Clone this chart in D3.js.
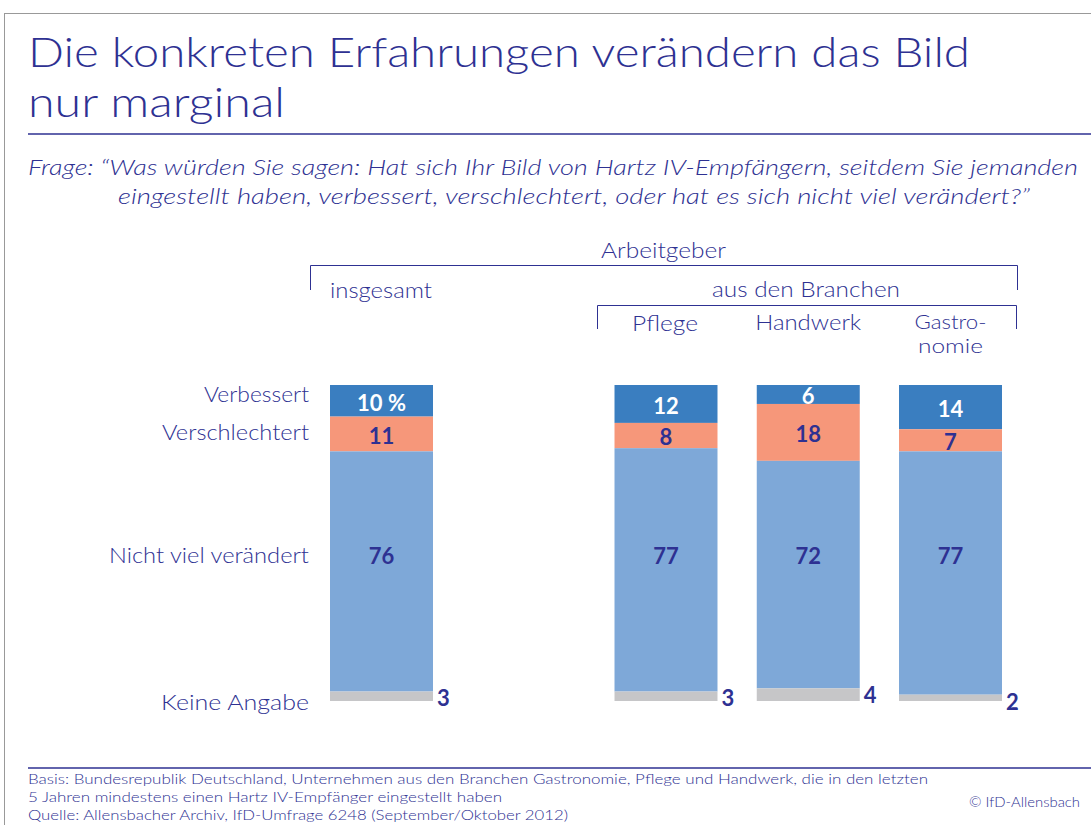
<!DOCTYPE html>
<html><head><meta charset="utf-8">
<script src="https://cdn.jsdelivr.net/npm/d3@7"></script>
<style>body{margin:0;background:#fff}svg{display:block}</style>
</head><body><svg id="c" width="1091" height="825"></svg>
<script>
const groups = ["insgesamt", "", "Pflege", "Handwerk", "Gastronomie"];
const bars = ["insgesamt", "Pflege", "Handwerk", "Gastronomie"];
const seriesNames = ["Verbessert", "Verschlechtert", "Nicht viel verändert", "Keine Angabe"];
const verbessert = [10, 12, 6, 14];
const verschlechtert = [11, 8, 18, 7];
const nichtViel = [76, 77, 72, 77];
const keineAngabe = [3, 3, 4, 2];
const colors = ["#3a7ec0", "#f6977a", "#7ea8d8", "#c6c6c8"];
const ink = "#2e3192";
const font = "Lato, 'Open Sans', sans-serif";

const svg = d3.select("#c");
const x = d3.scaleBand().domain(groups).range([330, 1002]).paddingInner(0.276).paddingOuter(0);
const y = d3.scaleLinear().domain([0, 100]).range([385, 701]);

function txt(t, xx, yy, size, w, opts) {
  opts = opts || {};
  const el = svg.append("text").attr("x", xx).attr("y", yy).attr("fill", opts.fill || ink)
    .attr("font-family", font).attr("font-size", size).attr("font-weight", opts.weight || 300)
    .attr("text-anchor", opts.anchor || "start").text(t);
  if (opts.italic) el.attr("font-style", "italic");
  if (w) el.attr("textLength", w).attr("lengthAdjust", "spacingAndGlyphs");
  return el;
}

// frame
svg.append("line").attr("x1",4).attr("x2",1091).attr("y1",13.5).attr("y2",13.5).attr("stroke","#999").attr("stroke-width",1);
svg.append("line").attr("x1",4.5).attr("x2",4.5).attr("y1",13).attr("y2",825).attr("stroke","#999").attr("stroke-width",1);

// title
txt("Die konkreten Erfahrungen verändern das Bild", 28, 67, 41, 942);
txt("nur marginal", 28, 117, 41, 257);
svg.append("line").attr("x1",28).attr("x2",1091).attr("y1",134).attr("y2",134).attr("stroke",ink).attr("stroke-width",1.5);

// question
txt("Frage: \u201CWas würden Sie sagen: Hat sich Ihr Bild von Hartz IV-Empfängern, seitdem Sie jemanden", 28, 175, 21, 1050, {italic:true});
txt("eingestellt haben, verbessert, verschlechtert, oder hat es sich nicht viel verändert?\u201D", 118, 204, 21, 912, {italic:true});

// headers
txt("Arbeitgeber", 601, 258, 21, 125);
svg.append("path").attr("d","M310.5,290V265.5H1017.5V290").attr("fill","none").attr("stroke",ink).attr("stroke-width",1);
txt("insgesamt", 330, 298, 21, 102);
txt("aus den Branchen", 712, 297, 21, 188);
svg.append("path").attr("d","M597.5,329V305.5H1016.5V329").attr("fill","none").attr("stroke",ink).attr("stroke-width",1);
const cx = g => x(g) + x.bandwidth()/2;
txt("Pflege", cx("Pflege") - 1, 331, 21, 66, {anchor:"middle"});
txt("Handwerk", cx("Handwerk"), 330, 21, 106, {anchor:"middle"});
txt("Gastro-", cx("Gastronomie"), 329, 20, 72, {anchor:"middle"});
txt("nomie", cx("Gastronomie"), 353, 20, 65, {anchor:"middle"});

// row labels
const rowY = [402, 440, 563, 710];
const rowW = [105, 147, 200, 148];
seriesNames.forEach((n,i) => txt(n, 309, rowY[i], 21, rowW[i], {anchor:"end"}));

// stacks
const table = bars.map((b,i) => ({group:b, v0:verbessert[i], v1:verschlechtert[i], v2:nichtViel[i], v3:keineAngabe[i]}));
const stack = d3.stack().keys(["v0","v1","v2","v3"])(table);
stack.forEach((layer, li) => {
  const g = svg.append("g");
  g.selectAll("rect").data(layer).join("rect")
    .attr("x", d => x(d.data.group)).attr("width", x.bandwidth())
    .attr("y", d => y(d[0])).attr("height", d => y(d[1]) - y(d[0]))
    .attr("fill", colors[li]);
  g.selectAll("text").data(layer).join("text")
    .attr("x", d => li === 3 ? x(d.data.group) + x.bandwidth() + 4 : x(d.data.group) + x.bandwidth()/2)
    .attr("y", d => li === 3 ? y(d[0]) + 7 : li === 2 ? rowY[2] - 7 : (y(d[0]) + y(d[1]))/2 + 2)
    .attr("dy","0.36em")
    .attr("text-anchor", li === 3 ? "start" : "middle")
    .attr("fill", li === 0 ? "#fff" : ink)
    .attr("font-family", font).attr("font-size", 22).attr("font-weight", 700)
    .text(d => {
      const v = d[1]-d[0];
      return (li === 0 && d.data.group === "insgesamt") ? v + " %" : v;
    });
});

// footer
svg.append("line").attr("x1",28).attr("x2",1091).attr("y1",768).attr("y2",768).attr("stroke",ink).attr("stroke-width",1.5);
const foot = ["Basis: Bundesrepublik Deutschland, Unternehmen aus den Branchen Gastronomie, Pflege und Handwerk, die in den letzten",
  "5 Jahren mindestens einen Hartz IV-Empfänger eingestellt haben",
  "Quelle: Allensbacher Archiv, IfD-Umfrage 6248 (September/Oktober 2012)"];
const footW = [900, 474, 540];
foot.forEach((t,i) => txt(t, 28, 784 + i*18, 14, footW[i]));
txt("© IfD-Allensbach", 1080, 807, 14, 111, {anchor:"end"});
</script></body></html>
